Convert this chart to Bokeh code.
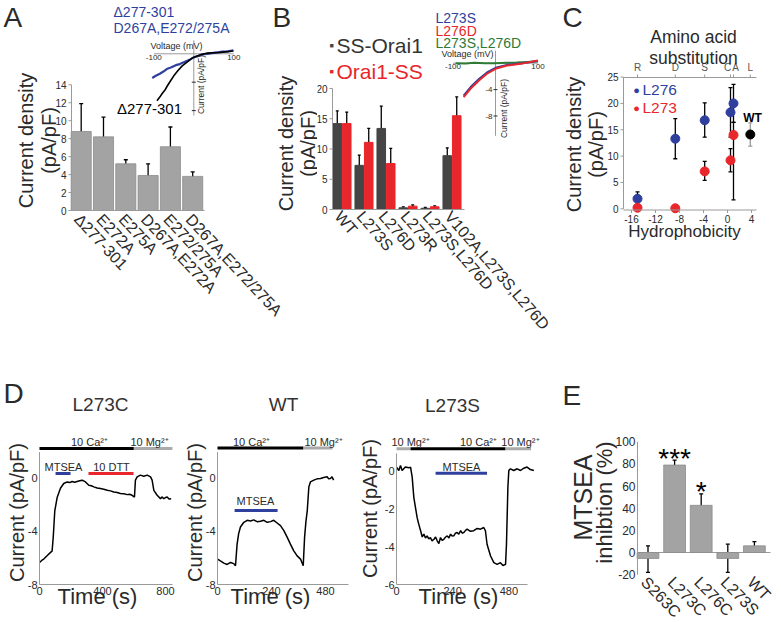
import math
from bokeh.plotting import figure
from bokeh.models import Range1d, Label, Whisker, ColumnDataSource, TeeHead
from bokeh.layouts import row, column
from bokeh.embed import file_html
from bokeh.resources import INLINE
from bokeh.core.properties import value

FONT = "Liberation Sans"
AX = "#9a9a9a"
TXT = "#2a2a2a"
BLUE = "#2f3f9e"
RED = "#e8262b"
GREEN = "#2f7a35"
BAR_GRAY = "#a3a3a3"
DARK = "#454545"

# ---------------- data: panel A ----------------
a_cats = ["Δ277-301", "E272A", "E275A", "D267A,E272A", "E272/275A", "D267A,E272/275A"]
a_vals = [8.8, 8.2, 5.2, 3.9, 7.1, 3.8]
a_lo = [5.6, 6.1, 4.7, 2.6, 4.8, 3.2]
a_hi = [11.9, 10.4, 5.65, 5.2, 9.3, 4.3]
a_yticks = [0, 2, 4, 6, 8, 10, 12, 14]
ivA_del_v = [-92, -85, -79, -72, -66, -58, -50, -40, -29, -20, -12, -4, 4, 18, 34, 50, 67, 84, 99]
ivA_del_i = [-6.6, -6.1, -5.6, -5.1, -4.5, -3.8, -3.1, -2.4, -1.7, -1.3, -0.95, -0.6, -0.4, -0.1, 0.1, 0.15, 0.2, 0.3, 0.4]
ivA_dm_v = [-104, -95, -85, -76, -66, -56, -45, -35, -25, -15, -8, 0, 8, 15, 25, 34, 45, 60, 72, 85, 99]
ivA_dm_i = [-3.4, -3.1, -2.8, -2.5, -2.1, -1.9, -1.6, -1.45, -1.2, -0.95, -0.75, -0.5, -0.35, -0.25, -0.05, 0.0, 0.1, 0.2, 0.3, 0.35, 0.5]
iv_v_ticks = [-100, 100]
iv_v_tick_labels = ["-100", "100"]
iv_i_ticks = [-4, -8]
iv_i_tick_labels = ["-4", "-8"]

# ---------------- data: panel B ----------------
b_cats = ["WT", "L273S", "L276D", "L273R", "L273S,L276D", "V102A,L273S,L276D"]
b_ss = [14.2, 7.3, 13.4, 0.28, 0.2, 8.9]
b_ss_lo = [12.0, 5.1, 9.4, 0.1, 0.05, 7.3]
b_ss_hi = [16.3, 9.0, 17.1, 0.45, 0.35, 10.2]
b_os = [14.2, 11.1, 7.6, 0.55, 0.45, 15.5]
b_os_lo = [12.1, 9.0, 5.1, 0.35, 0.3, 12.6]
b_os_hi = [16.1, 13.4, 10.1, 0.75, 0.6, 18.6]
b_yticks = [0, 5, 10, 15, 20]
ivB_v = [-75, -59, -39, -20, 0, 27, 59, 100]
ivB_blue = [-4.9, -3.65, -2.4, -1.4, -0.7, -0.25, -0.05, 0.35]
ivB_red = [-5.15, -3.88, -2.62, -1.6, -0.85, -0.35, -0.1, 0.4]
ivB_green_v = [-94, -70, -50, -25, 0, 25, 50, 75, 100]
ivB_green_i = [0.0, -0.05, 0.05, 0.0, 0.0, 0.05, 0.1, 0.2, 0.3]

# ---------------- data: panel C ----------------
c_aa = ["R", "D", "S", "C", "A", "L"]
c_hyd = [-15.0, -8.7, -3.8, 0.5, 1.0, 3.8]
c_l276 = [1.9, 13.3, 16.8, 18.3, 20.0]
c_l276_lo = [0.6, 9.5, 13.6, 13.6, 16.4]
c_l276_hi = [3.2, 17.1, 20.1, 23.0, 23.6]
c_l273 = [0.2, 0.1, 7.1, 9.2, 14.0]
c_l273_lo = [0.2, 0.1, 5.4, 7.0, 1.7]
c_l273_hi = [0.2, 0.1, 9.0, 11.4, 16.4]
c_wt = [14.1]
c_wt_lo = [11.9]
c_wt_hi = [16.3]
c_xticks = [-16, -12, -8, -4, 0, 4]
c_yticks = [0, 5, 10, 15, 20, 25]

# ---------------- data: panel D ----------------
d1_t = [0, 14, 27, 48, 70, 80, 87, 97, 112, 133, 154, 176, 192, 207, 223, 239, 255, 271, 292, 313,
        329, 345, 366, 387, 408, 430, 451, 472, 493, 514, 535, 557, 572, 588, 603, 609, 620, 641, 662, 684,
        705, 715, 726, 747, 768, 779, 789, 800, 811, 822, 836]
d1_i = [-6.36, -6.2, -6.1, -5.85, -5.6, -5.5, -4.5, -2.5, -1.5, -0.8, -0.45, -0.33, -0.38, -0.3, -0.36, -0.3,
        -0.25, -0.2, -0.33, -0.58, -0.62, -0.7, -0.78, -0.83, -0.88, -0.96, -1.0, -1.08, -1.12, -1.2,
        -1.22, -1.28, -1.25, -1.33, -1.46, -0.2, 0.05, 0.18, 0.1, 0.18, 0.05, -0.2, -0.96, -1.33, -1.58,
        -1.45, -1.58, -1.5, -1.46, -1.6, -1.58]
d1_xticks = [0, 400, 800]
d1_yticks = [-8, -4, 0]
d1_ca = (0, 599)
d1_mg = (599, 844)
d1_mtsea = (102, 197)
d1_dtt = (311, 597)

d2_t = [0, 13, 28, 43, 58, 72, 80, 87, 94, 102, 117, 132, 147, 161, 176, 191, 206, 221, 236, 250,
        265, 280, 295, 310, 324, 339, 354, 369, 381, 387, 393, 399, 406, 413, 428, 443, 458, 472, 487, 494,
        502, 509, 516]
d2_i = [-6.1, -6.24, -6.4, -6.5, -6.35, -6.44, -6.6, -5.0, -4.2, -3.7, -3.35, -3.2, -3.25, -3.17, -3.3,
        -3.27, -3.2, -3.35, -3.3, -3.2, -3.4, -3.6, -3.97, -4.48, -4.98, -5.48, -5.86, -6.1, -6.6, -4.48,
        -3.3, -2.47, -0.7, -0.33, -0.2, -0.1, -0.08, 0.0, 0.05, -0.1, -0.08, 0.05, -0.2]
d2_xticks = [0, 240, 480]
d2_yticks = [-8, -4, 0]
d2_ca = (0, 382)
d2_mg = (382, 511)
d2_mtsea = (76, 267)

d3_t = [0, 10, 17, 24, 38, 53, 60, 67, 74, 81, 88, 95, 103, 110, 117, 124, 131, 138, 145, 152,
        160, 167, 174, 181, 188, 195, 202, 210, 217, 224, 231, 238, 245, 252, 259, 266, 274, 281, 288, 295,
        302, 316, 330, 345, 359, 373, 380, 387, 402, 416, 430, 444, 455, 466, 470, 476, 480, 487, 501, 516,
        530, 544, 558, 572, 587]
d3_i = [0.18, 0.0, 0.26, 0.0, 0.18, 0.14, 0.18, -0.35, -1.41, -1.94, -2.47, -2.82, -3.17, -3.5, -3.35,
        -3.55, -3.44, -3.6, -3.53, -3.7, -3.62, -3.5, -3.7, -3.85, -3.53, -3.68, -3.62, -3.5, -3.44, -3.55,
        -3.35, -3.45, -3.44, -3.3, -3.26, -3.35, -3.17, -3.3, -3.26, -3.15, -3.09, -3.2, -3.17, -3.05, -3.09,
        -3.0, -3.17, -3.88, -4.5, -4.85, -4.94, -4.85, -5.0, -4.94, -3.88, -0.88, 0.0, 0.09, 0.0, 0.09,
        0.0, 0.12, 0.18, 0.05, 0.0]
d3_xticks = [0, 240, 480]
d3_yticks = [-6, -4, -2, 0]
d3_mg1 = (0, 60)
d3_ca = (60, 466)
d3_mg2 = (466, 575)
d3_mtsea = (167, 387)

# ---------------- data: panel E ----------------
e_cats = ["S263C", "L273C", "L276C", "L273S", "WT"]
e_vals = [-5.4, 79.0, 42.6, -5.4, 6.0]
e_lo = [-18.0, 75.0, 31.5, -18.0, 2.4]
e_hi = [6.0, 83.5, 53.0, 7.5, 9.9]
e_stars = ["", "***", "*", "", ""]
e_yticks = [-20, 0, 20, 40, 60, 80, 100]


# ---------------- helpers ----------------
def lin_range(v0, p0, s, f0, f1):
    """Range whose value v0 sits at pixel p0, with s pixels per unit, spanning pixels f0..f1."""
    return Range1d(start=v0 + (f0 - p0) / s, end=v0 + (f1 - p0) / s)


def make_fig(box, xcal, ycal):
    x0, y0, x1, y1 = box
    p = figure(frame_width=x1 - x0, frame_height=y1 - y0,
               x_range=lin_range(*xcal, x0, x1), y_range=lin_range(*ycal, y1, y0),
               output_backend="svg", toolbar_location=None, title=None,
               x_axis_location=None, y_axis_location=None, min_border=0,
               outline_line_color=None, border_fill_color="white", background_fill_color="white")
    p.extra_x_ranges = {"px": Range1d(x0, x1)}
    p.extra_y_ranges = {"px": Range1d(y1, y0)}
    p.xgrid.visible = False
    p.ygrid.visible = False
    return p


def txt(p, x, y, text, size, color=TXT, align="center", baseline="middle", angle=0.0, style="normal",
        xname="px", yname="px", x_offset=0, y_offset=0):
    p.text(x=list(x), y=list(y), text=list(text), x_range_name=xname, y_range_name=yname,
           text_font=value(FONT), text_font_size=f"{size}px", text_color=color,
           text_align=align, text_baseline=baseline, angle=angle, text_font_style=style,
           x_offset=x_offset, y_offset=y_offset)


def lab(p, x, y, text, size, color=TXT, align="center", baseline="middle", angle=0.0, style="normal"):
    p.add_layout(Label(x=x, y=y, x_range_name="px", y_range_name="px", text=text,
                       text_font=FONT, text_font_size=f"{size}px", text_color=color,
                       text_align=align, text_baseline=baseline, angle=angle,
                       text_font_style=style))


def yaxis(p, xpix, ticks, bounds, size, tick_len=3, yname="default"):
    n = len(ticks)
    p.segment(x0=[xpix], y0=[bounds[0]], x1=[xpix], y1=[bounds[1]], x_range_name="px",
              y_range_name=yname, line_color=AX, line_width=1)
    if tick_len:
        p.segment(x0=[xpix - tick_len] * n, y0=ticks, x1=[xpix] * n, y1=ticks, x_range_name="px",
                  y_range_name=yname, line_color=AX, line_width=1)
    txt(p, [xpix - tick_len - 2] * n, ticks, [f"{t:g}" for t in ticks], size, align="right",
        yname=yname)


def xaxis_line(p, ypix, xpix0, xpix1):
    p.segment(x0=[xpix0], y0=[ypix], x1=[xpix1], y1=[ypix], x_range_name="px", y_range_name="px",
              line_color=AX, line_width=1)


def xticks_text(p, ypix, ticks, labels, size, baseline="top", color=TXT, tick_len=0, x_offset=0):
    n = len(ticks)
    if tick_len:
        d = tick_len if baseline == "top" else -tick_len
        p.segment(x0=ticks, y0=[ypix] * n, x1=ticks, y1=[ypix + d] * n, x_range_name="default",
                  y_range_name="px", line_color=AX, line_width=1)
    off = tick_len + 2
    txt(p, ticks, [ypix + (off if baseline == "top" else -off)] * n, labels, size, color=color,
        baseline=baseline, xname="default", x_offset=x_offset)


def cat_labels(p, xs, ypix, labels, size, angle, x_offset=-4):
    txt(p, xs, [ypix] * len(xs), labels, size, align="left", baseline="middle", angle=angle,
        xname="default", x_offset=x_offset)


def whisk(p, xs, lo, hi, color="black", size=4):
    src = ColumnDataSource(dict(x=list(xs), lo=list(lo), hi=list(hi)))
    p.add_layout(Whisker(source=src, base="x", lower="lo", upper="hi", line_color=color,
                         line_width=1.3,
                         upper_head=TeeHead(size=size, line_color=color, line_width=1.3),
                         lower_head=TeeHead(size=size, line_color=color, line_width=1.3)))


def ytitle(p, xc, yc, text, size=20):
    lab(p, xc, yc, text, size, angle=math.pi / 2)


def iv_axes(p, i_top, i_bottom, show_i_labels):
    p.segment(x0=[min(iv_v_ticks)], y0=[0], x1=[max(iv_v_ticks)], y1=[0], x_range_name="ivx",
              y_range_name="ivy", line_color=AX, line_width=1)
    p.segment(x0=[0], y0=[i_top], x1=[0], y1=[i_bottom], x_range_name="ivx",
              y_range_name="ivy", line_color=AX, line_width=1)
    txt(p, iv_v_ticks, [0] * len(iv_v_ticks), iv_v_tick_labels, 8, baseline="top",
        xname="ivx", yname="ivy", y_offset=1)
    p.scatter(x=[0] * len(iv_i_ticks), y=iv_i_ticks, marker="dash", size=4, line_color=TXT,
              x_range_name="ivx", y_range_name="ivy")
    if show_i_labels:
        txt(p, [0] * len(iv_i_ticks), iv_i_ticks, iv_i_tick_labels, 8, align="right",
            xname="ivx", yname="ivy", x_offset=-3)


# ================= Panel A (its canvas also carries panel B's letter and y title) =================
pA = make_fig((0, 0, 317, 370), (0.5, 80.7, 22.3), (0, 210, -8.98))
ax_x = [i + 0.5 for i in range(len(a_cats))]
pA.vbar(x=ax_x, top=a_vals, width=0.9, fill_color=BAR_GRAY, line_color="#8c8c8c", line_width=0.8)
whisk(pA, ax_x, a_lo, a_hi)
yaxis(pA, 71, a_yticks, (0, 14), 10)
xaxis_line(pA, 210, 71, 204)
cat_labels(pA, ax_x, 216, a_cats, 16, -0.82)
pA.extra_x_ranges["ivx"] = lin_range(0, 193.3, 0.4, 0, 317)
pA.extra_y_ranges["ivy"] = lin_range(0, 53.3, -7.1, 370, 0)
iv_axes(pA, 1.9, -8.7, False)
pA.line(ivA_dm_v, ivA_dm_i, x_range_name="ivx", y_range_name="ivy", line_color=BLUE, line_width=2.2)
pA.line(ivA_del_v, ivA_del_i, x_range_name="ivx", y_range_name="ivy", line_color="black", line_width=1.6)
lab(pA, 176, 45, "Voltage (mV)", 9)
lab(pA, 200, 84, "Current (pA/pF)", 8.5, angle=math.pi / 2)
lab(pA, 113, 11, "Δ277-301", 14, color=BLUE, align="left")
lab(pA, 113, 27, "D267A,E272/275A", 14, color=BLUE, align="left")
lab(pA, 149, 108, "Δ277-301", 15, color="black")
ytitle(pA, 25, 140, "Current density")
ytitle(pA, 48, 140, "(pA/pF)")
lab(pA, 3, 17, "A", 28, align="left")
# panel B letter and y title
ytitle(pA, 285, 143, "Current density")
ytitle(pA, 307, 143, "(pA/pF)")
lab(pA, 272, 17, "B", 28, align="left")

# ================= Panel B =================
pB = make_fig((317, 0, 556, 370), (0.5, 341.5, 22.0), (0, 209, -6.05))
bx = [i + 0.5 for i in range(len(b_cats))]
bx_ss = [x - 0.215 for x in bx]
bx_os = [x + 0.215 for x in bx]
pB.vbar(x=bx_ss, top=b_ss, width=0.39, fill_color=DARK, line_color=DARK)
pB.vbar(x=bx_os, top=b_os, width=0.39, fill_color=RED, line_color=RED)
whisk(pB, bx_ss, b_ss_lo, b_ss_hi, size=3)
whisk(pB, bx_os, b_os_lo, b_os_hi, size=3)
yaxis(pB, 332, b_yticks, (0, 20), 10)
xaxis_line(pB, 209, 332, 464)
cat_labels(pB, bx, 213, b_cats, 16, -0.86)
pB.extra_x_ranges["ivx"] = lin_range(0, 495, 0.425, 317, 556)
pB.extra_y_ranges["ivy"] = lin_range(0, 62.7, -6.6, 370, 0)
iv_axes(pB, 1.9, -11.0, True)
pB.line(ivB_green_v, ivB_green_i, x_range_name="ivx", y_range_name="ivy", line_color=GREEN, line_width=2)
pB.line(ivB_v, ivB_blue, x_range_name="ivx", y_range_name="ivy", line_color=BLUE, line_width=2)
pB.line(ivB_v, ivB_red, x_range_name="ivx", y_range_name="ivy", line_color=RED, line_width=2)
lab(pB, 467, 53, "Voltage (mV)", 9)
lab(pB, 503, 108, "Current (pA/pF)", 8.5, angle=math.pi / 2)
lab(pB, 435, 17, "L273S", 14, color=BLUE, align="left")
lab(pB, 435, 30, "L276D", 14, color=RED, align="left")
lab(pB, 435, 42, "L273S,L276D", 14, color=GREEN, align="left")
lab(pB, 331, 45, "■", 7, color=DARK)
lab(pB, 336, 45, "SS-Orai1", 21, color="#333333", align="left")
lab(pB, 331, 71, "■", 7, color=RED)
lab(pB, 336, 71, "Orai1-SS", 21, color=RED, align="left")

# ================= Panel C =================
pC = make_fig((556, 0, 780, 370), (0, 727, 6.0), (0, 208.3, -5.27))
c_x5 = c_hyd[:5]
whisk(pC, c_x5, c_l276_lo, c_l276_hi, size=4)
whisk(pC, c_x5, c_l273_lo, c_l273_hi, size=4)
whisk(pC, [c_hyd[5]], c_wt_lo, c_wt_hi, color="#9a9a9a", size=4)
pC.scatter(c_x5, c_l276, size=9, fill_color=BLUE, line_color=BLUE)
pC.scatter(c_x5, c_l273, size=9, fill_color=RED, line_color=RED)
pC.scatter([c_hyd[5]], c_wt, size=9, fill_color="black", line_color="black")
yaxis(pC, 623, c_yticks, (0, 25), 10)
xaxis_line(pC, 209.5, 623, 756)
xticks_text(pC, 209.5, c_xticks, [f"{t:g}" for t in c_xticks], 10, tick_len=3)
xaxis_line(pC, 77, 623, 756)
xticks_text(pC, 77, c_hyd, c_aa, 10, baseline="bottom", color="#555555", tick_len=3,
            x_offset=[0, 0, 0, -3, 2, 0])
lab(pC, 693, 36, "Amino acid", 17.5)
lab(pC, 693, 57, "substitution", 17.5)
lab(pC, 684, 231, "Hydrophobicity", 17)
lab(pC, 636, 89, "●", 11, color=BLUE)
lab(pC, 642, 89, "L276", 15.5, color=BLUE, align="left")
lab(pC, 636, 107, "●", 11, color=RED)
lab(pC, 642, 107, "L273", 15.5, color=RED, align="left")
lab(pC, 752, 117, "WT", 12, color="black", style="bold")
ytitle(pC, 573, 144, "Current density")
ytitle(pC, 595, 144, "(pA/pF)")
lab(pC, 562, 17, "C", 28, align="left")


# ================= Panel D =================
def trace_fig(box, xcal, ycal, t, cur, xticks, yticks, ybounds, xpix_end):
    p = make_fig(box, xcal, ycal)
    p.line(t, cur, line_color="black", line_width=1.5)
    yaxis(p, xcal[1], yticks, ybounds, 11, tick_len=0)
    ybase = ycal[1] + ycal[2] * (ybounds[0] - ycal[0])
    xaxis_line(p, ybase, xcal[1], xpix_end)
    xticks_text(p, ybase, xticks, [f"{v:g}" for v in xticks], 11)
    return p


def hbar(p, span, level, color, width=3):
    p.segment(x0=[span[0]], y0=[level], x1=[span[1]], y1=[level], line_color=color, line_width=width)


pD1 = trace_fig((0, 370, 180, 621), (0, 39, 0.1575), (0, 477, -13.375), d1_t, d1_i,
                d1_xticks, d1_yticks, (-8, 1.9), 172)
hbar(pD1, d1_ca, 2.17, "black")
hbar(pD1, d1_mg, 2.17, "#aaaaaa")
hbar(pD1, d1_mtsea, 0.3, BLUE)
hbar(pD1, d1_dtt, 0.3, RED)
lab(pD1, 89, 441, "10 Ca²⁺", 11)
lab(pD1, 149, 441, "10 Mg²⁺", 11)
lab(pD1, 63, 466, "MTSEA", 11)
lab(pD1, 111, 466, "10 DTT", 11)
lab(pD1, 100, 404, "L273C", 19, color="#333333")
lab(pD1, 97, 596, "Time (s)", 22)
ytitle(pD1, 16, 512, "Current (pA/pF)")
lab(pD1, 3, 393, "D", 28, align="left")

pD2 = trace_fig((180, 370, 356, 621), (0, 217, 0.225), (0, 477, -13.375), d2_t, d2_i,
                d2_xticks, d2_yticks, (-8, 1.9), 348)
hbar(pD2, d2_ca, 2.2, "black")
hbar(pD2, d2_mg, 2.2, "#aaaaaa")
hbar(pD2, d2_mtsea, -2.47, BLUE)
lab(pD2, 251, 441, "10 Ca²⁺", 11)
lab(pD2, 323, 441, "10 Mg²⁺", 11)
lab(pD2, 255, 500, "MTSEA", 11)
lab(pD2, 283, 404, "WT", 19, color="#333333")
lab(pD2, 270, 596, "Time (s)", 22)
ytitle(pD2, 194, 512, "Current (pA/pF)")

pD3 = trace_fig((356, 370, 540, 621), (0, 396, 0.234), (0, 470, -19.0), d3_t, d3_i,
                d3_xticks, d3_yticks, (-6, 0.9), 527)
hbar(pD3, d3_mg1, 1.14, "#aaaaaa")
hbar(pD3, d3_ca, 1.14, "black")
hbar(pD3, d3_mg2, 1.14, "#aaaaaa")
hbar(pD3, d3_mtsea, -0.14, BLUE)
lab(pD3, 410, 441, "10 Mg²⁺", 11)
lab(pD3, 478, 441, "10 Ca²⁺", 11)
lab(pD3, 539, 441, "10 Mg²⁺", 11, align="right")
lab(pD3, 461, 466, "MTSEA", 11)
lab(pD3, 452, 405, "L273S", 19, color="#333333")
lab(pD3, 458, 596, "Time (s)", 22)
ytitle(pD3, 369, 508, "Current (pA/pF)")

# ================= Panel E =================
pE = make_fig((540, 370, 780, 621), (0.5, 647.5, 26.6), (0, 552, -1.107))
ex = [i + 0.5 for i in range(len(e_cats))]
pE.segment(x0=[637], y0=[0], x1=[770], y1=[0], x_range_name="px", line_color=AX, line_width=1)
pE.vbar(x=ex, top=e_vals, width=0.82, fill_color=BAR_GRAY, line_color="#8c8c8c", line_width=0.8)
whisk(pE, ex, e_lo, e_hi, size=4)
txt(pE, ex, e_hi, e_stars, 28, color="black", xname="default", yname="default", y_offset=-2)
yaxis(pE, 637, e_yticks, (-20, 100), 12, tick_len=0)
cat_labels(pE, ex, 579, e_cats, 16, -0.8)
ytitle(pE, 582, 497, "MTSEA", 25)
ytitle(pE, 604, 502, "inhibtion (%)", 22)
lab(pE, 562, 395, "E", 28, align="left")

layout = column(row(pA, pB, pC), row(pD1, pD2, pD3, pE))
open("out.html", "w").write(file_html(layout, INLINE))
